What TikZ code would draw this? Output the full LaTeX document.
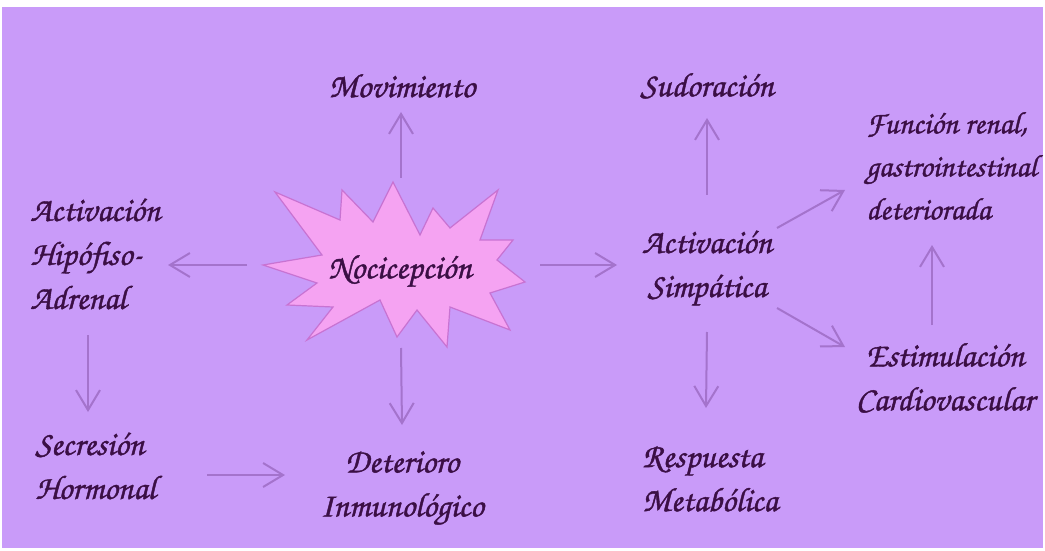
\documentclass[tikz,border=0pt]{standalone}
\usepackage{fontspec}
\newfontfamily\chorusfont[FakeBold=1.2]{TeX Gyre Chorus}
\usepackage{xcolor}
\usetikzlibrary{arrows.meta}
\definecolor{lilac}{HTML}{C99BF9}
\definecolor{pinkstar}{HTML}{F5A3F2}
\definecolor{starline}{HTML}{C873D2}
\definecolor{arrowpurple}{HTML}{A473CC}
\definecolor{plum}{HTML}{3B0F45}

\begin{document}
\begin{tikzpicture}[x=0.5pt, y=-0.5pt,
  txt/.style={text=plum, font=\chorusfont\fontsize{17}{22}\selectfont, inner sep=0pt},
  link/.style={draw=arrowpurple, line width=1pt, -{Straight Barb[length=10pt,width=12pt]}}]
\useasboundingbox (0,0) rectangle (1045,551);
\fill[white] (0,0) rectangle (1045,551);
\fill[lilac] (2,7) rectangle (1043,548);

% starburst
\draw[fill=pinkstar, draw=starline, line width=0.6pt]
  (263,265) -- (322,255) -- (275,192) -- (340,220) -- (342,190) -- (373,222)
  -- (393,182) -- (420,235) -- (433,208) -- (450,228) -- (498,190) -- (480,240)
  -- (513,240) -- (497,260) -- (525,282) -- (490,293) -- (510,330) -- (450,307)
  -- (447,347) -- (417,310) -- (397,337) -- (380,300) -- (307,340) -- (333,307)
  -- (287,305) -- (317,283) -- cycle;
\node (star) [minimum width=139pt, minimum height=83pt, inner sep=0pt] at (401,264) {};

% labels
\node[txt] (noci) at (400,271) {Nocicepción};
\node[txt] (mov) at (402,86) {Movimiento};
\node[txt] (sud) at (707,86) {Sudoración};
\node[txt, font=\chorusfont\fontsize{15.6}{21.5}\selectfont, align=left, anchor=west] (func) at (866,166) {Función renal,\\gastrointestinal\\deteriorada};
\node[txt, align=left, anchor=west] (hipo) at (30,254) {Activación\\Hipófiso-\\Adrenal};
\node[txt, align=center] (simp) at (707,268) {Activación\\Simpática};
\node[txt, align=center] (estim) at (945,378) {Estimulación\\Cardiovascular};
\node[txt, align=left, anchor=west] (secr) at (35,466) {Secresión\\Hormonal};
\node[txt, align=center] (deter) at (402,488) {Deterioro\\Inmunológico};
\node[txt, align=left, anchor=west] (resp) at (642,479) {Respuesta\\Metabólica};

% arrows
\draw[link] ([shift={(0,-86)}]star.center) -- ([shift={(-1,26)}]mov.center);
\draw[link] ([shift={(-154,1)}]star.center) -- ([shift={(138,11)}]hipo.west);
\draw[link] ([shift={(139,1)}]star.center) -- ([shift={(-90,-3)}]simp.center);
\draw[link] ([shift={(0,84)}]star.center) -- ([shift={(0,-63)}]deter.center);
\draw[link] ([shift={(58,81)}]hipo.west) -- ([shift={(53,-54)}]secr.west);
\draw[link] ([shift={(172,9)}]secr.west) -- ([shift={(-117,-13)}]deter.center);
\draw[link] ([shift={(0,-73)}]simp.center) -- ([shift={(0,32)}]sud.center);
\draw[link] ([shift={(70,-40)}]simp.center) -- ([shift={(-21,24)}]func.west);
\draw[link] ([shift={(70,40)}]simp.center) -- ([shift={(-100,-31)}]estim.center);
\draw[link] ([shift={(0,64)}]simp.center) -- ([shift={(64,-71)}]resp.west);
\draw[link] ([shift={(-13,-53)}]estim.center) -- ([shift={(66,79)}]func.west);
\end{tikzpicture}
\end{document}
